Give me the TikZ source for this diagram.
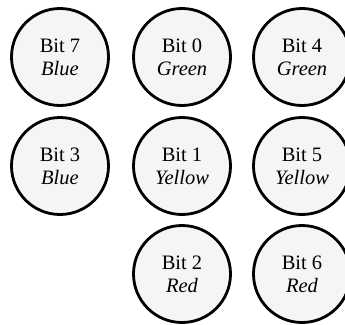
\documentclass[tikz,border=0pt]{standalone}
\usepackage{fontspec}
\setmainfont{Liberation Serif}
\begin{document}
\begin{tikzpicture}[x=1pt,y=1pt,
  bitnode/.style={circle, draw=black, line width=2.8pt, fill=black!4,
    minimum size=97pt, inner sep=0pt, align=center,
    font=\fontsize{20.5}{23}\selectfont}]
\useasboundingbox (0,0) rectangle (345,-324);
\clip (0,0) rectangle (345,-324);
% first column
\node[bitnode] (b7) at (60,-57)  {Bit 7\\\textit{Blue}};
\node[bitnode] (b3) at (60,-166) {Bit 3\\\textit{Blue}};
% second column
\node[bitnode] (b0) at (182,-57)  {Bit 0\\\textit{Green}};
\node[bitnode] (b1) at (182,-166) {Bit 1\\\textit{Yellow}};
\node[bitnode] (b2) at (182,-274) {Bit 2\\\textit{Red}};
% third column
\node[bitnode] (b4) at (302,-57)  {Bit 4\\\textit{Green}};
\node[bitnode] (b5) at (302,-166) {Bit 5\\\textit{Yellow}};
\node[bitnode] (b6) at (302,-274) {Bit 6\\\textit{Red}};
\end{tikzpicture}
\end{document}
